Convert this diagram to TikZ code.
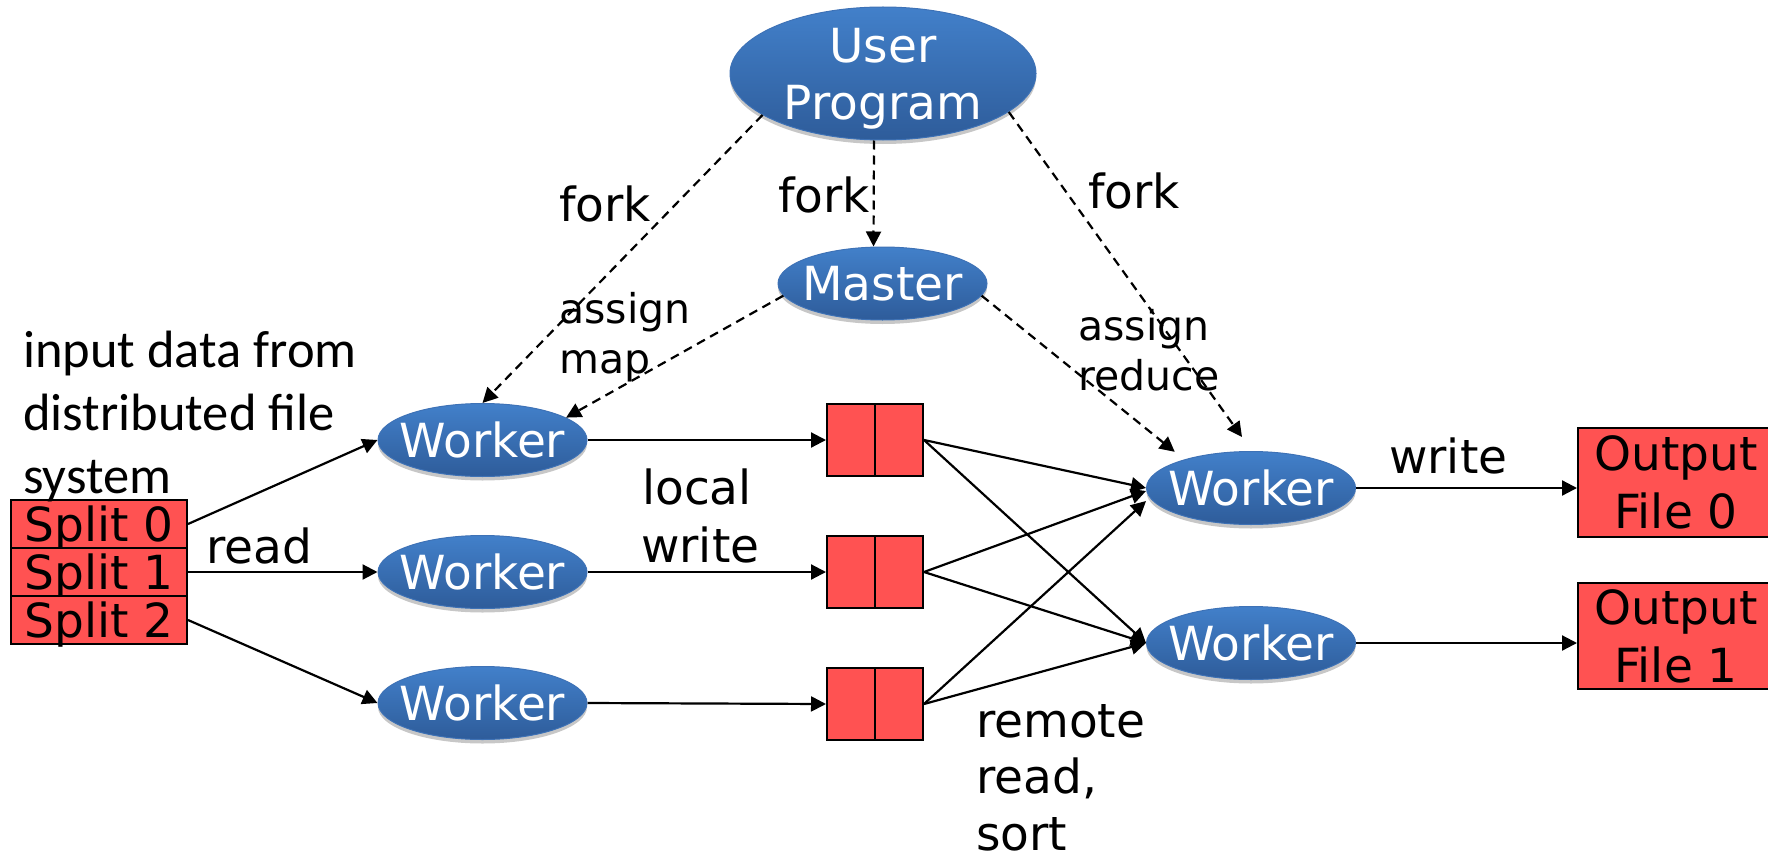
\documentclass[tikz,border=0pt]{standalone}
\usepackage{fontspec}
\setmainfont{DejaVu Sans}
\newfontfamily\carl{Carlito}
\usetikzlibrary{shapes.geometric, arrows.meta, shadows}
\definecolor{ellTop}{RGB}{66,128,202}
\definecolor{ellBot}{RGB}{46,92,154}
\definecolor{ellLine}{RGB}{62,114,182}
\definecolor{boxRed}{RGB}{255,82,82}
\begin{document}
\begin{tikzpicture}[x=1pt,y=-1pt,
  proc/.style={ellipse, draw=ellLine, line width=1pt, top color=ellTop, bottom color=ellBot,
    text=white, inner xsep=-12pt, inner ysep=0pt, minimum width=209pt, minimum height=73pt,
    font=\fontsize{47}{57}\selectfont,
    drop shadow={shadow xshift=0pt, shadow yshift=-4pt, opacity=0.22, fill=black}},
  redbox/.style={rectangle, draw=black, line width=2pt, fill=boxRed, inner sep=0pt,
    font=\fontsize{47}{58}\selectfont, align=center},
  lbl/.style={inner sep=0pt, anchor=base west, font=\fontsize{47}{57}\selectfont},
  arr/.style={-{Triangle[length=15pt,width=15pt]}, line width=2.2pt},
  darr/.style={arr, dash pattern=on 9pt off 6pt}
]
\useasboundingbox (0,0) rectangle (1768,856);

% ellipses
\node[proc, minimum width=306pt, minimum height=133pt, align=center, text depth=0pt] (up) at (883,73.5) {User\\Program};
\node[proc] (master) at (882.5,283.5) {Master};
\node[proc] (w1) at (482.5,440) {Worker};
\node[proc] (w2) at (482.5,572) {Worker};
\node[proc] (w3) at (482.5,703) {Worker};
\node[proc] (r1) at (1251,488) {Worker};
\node[proc] (r2) at (1251,643) {Worker};

% split boxes
\node[redbox, minimum width=176pt, minimum height=48pt, text depth=0pt] (s0) at (99,524) {Split 0};
\node[redbox, minimum width=176pt, minimum height=48pt, text depth=0pt] (s1) at (99,572) {Split 1};
\node[redbox, minimum width=176pt, minimum height=48pt, text depth=0pt] (s2) at (99,620) {Split 2};

% intermediate files
\node[redbox, minimum width=96pt, minimum height=72pt] (b1) at (875,440) {};
\node[redbox, minimum width=96pt, minimum height=72pt] (b2) at (875,572) {};
\node[redbox, minimum width=96pt, minimum height=72pt] (b3) at (875,704) {};
\draw[line width=2pt] (b1.north) -- (b1.south);
\draw[line width=2pt] (b2.north) -- (b2.south);
\draw[line width=2pt] (b3.north) -- (b3.south);

% output files
\node[redbox, minimum width=196pt, minimum height=109pt] (o0) at (1676,482.5) {Output\\File 0};
\node[redbox, minimum width=196pt, minimum height=106pt] (o1) at (1676,636) {Output\\File 1};

% solid arrows
\draw[arr] (s0.east) -- (w1.west);
\draw[arr] (s1.east) -- (w2.west);
\draw[arr] (s2.east) -- (w3.west);
\draw[arr] (w1.east) -- (b1.west);
\draw[arr] (w2.east) -- (b2.west);
\draw[arr] (w3.east) -- (b3.west);
\draw[arr] (b1.east) -- (r1.west);
\draw[arr] (b2.east) -- ([yshift=-3pt]r1.west);
\draw[arr] (b3.east) -- ([yshift=-13pt]r1.west);
\draw[arr] (b1.east) -- (r2.west);
\draw[arr] (b2.east) -- (r2.west);
\draw[arr] (b3.east) -- (r2.west);
\draw[arr] (r1.east) -- (r1.east -| o0.west);
\draw[arr] (r2.east) -- (r2.east -| o1.west);

% dashed arrows
\draw[darr] (up.199) -- (w1.north);
\draw[darr] ([xshift=-9pt]up.south) -- ([xshift=-9pt]master.north);
\draw[darr] (up.-17) -- ([xshift=-9pt,yshift=14pt]r1.north);
\draw[darr] (master.187) -- (w1.15);
\draw[darr] (master.-7) -- ([xshift=-2pt,yshift=10pt]r1.north west);

% labels
\node[lbl] (fork1) at (559,221) {fork};
\node[lbl] (fork2) at (778,212) {fork};
\node[lbl] (fork3) at (1088,208) {fork};
\node[lbl, font=\fontsize{41}{50}\selectfont] (am1) at (559,323) {assign};
\node[lbl, font=\fontsize{41}{50}\selectfont] (am2) at (559,373) {map};
\node[lbl, font=\fontsize{41}{50}\selectfont] (ar1) at (1078,340) {assign};
\node[lbl, font=\fontsize{41}{50}\selectfont] (ar2) at (1078,390) {reduce};
\node[lbl, font=\carl\fontsize{52.5}{63}\selectfont] (in1) at (23,367) {input data from};
\node[lbl, font=\carl\fontsize{52.5}{63}\selectfont] (in2) at (23,430) {distributed file};
\node[lbl, font=\carl\fontsize{52.5}{63}\selectfont] (in3) at (23,493) {system};
\node[lbl] (rd) at (206,563) {read};
\node[lbl] (lw1) at (642,504) {local};
\node[lbl] (lw2) at (641,562) {write};
\node[lbl] (rr1) at (976,737) {remote};
\node[lbl] (rr2) at (976,793) {read,};
\node[lbl] (rr3) at (976,850) {sort};
\node[lbl] (wr) at (1389,473) {write};
\end{tikzpicture}
\end{document}
